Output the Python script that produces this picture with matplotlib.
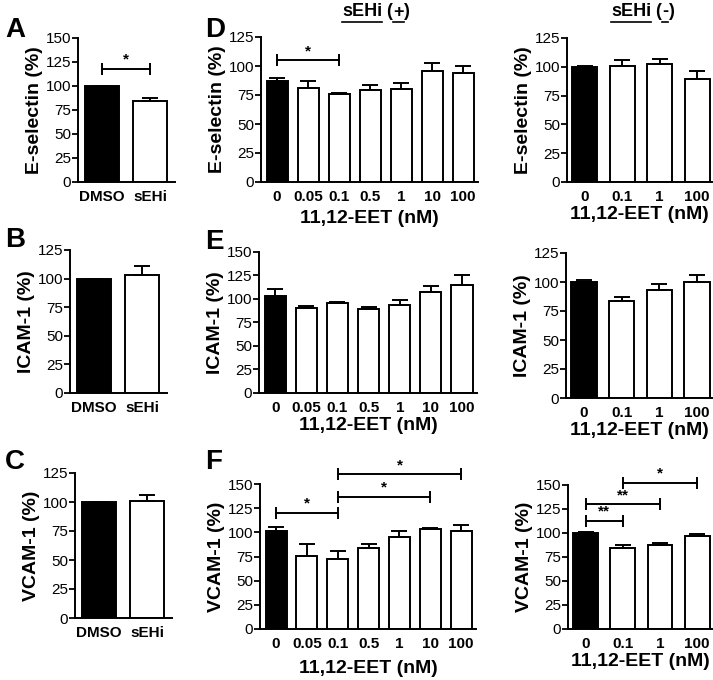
import numpy as np
import matplotlib
matplotlib.use('Agg')
import matplotlib.pyplot as plt
from matplotlib.lines import Line2D

plt.rcParams['font.family'] = ['Liberation Sans', 'DejaVu Sans']

# panels A-C: DMSO vs sEHi
ctrl_labels = ['DMSO', 'sEHi']
a_vals = [100, 84]
a_errs = [0, 3]
b_vals = [100, 103]
b_errs = [0, 8]
c_vals = [100, 101]
c_errs = [0, 5]

# panels D-F: 11,12-EET dose, with sEHi (+) and without (-)
dose_plus = ['0', '0.05', '0.1', '0.5', '1', '10', '100']
dose_minus = ['0', '0.1', '1', '100']

d_plus_vals = [87, 81, 76, 79, 80, 96, 94]
d_plus_errs = [3, 6, 1, 5, 5, 7, 6]
d_minus_vals = [100, 101, 102, 89]
d_minus_errs = [0.5, 5, 5, 7]

e_plus_vals = [103, 90, 96, 89, 94, 107, 115]
e_plus_errs = [8, 3, 1, 2, 5, 7, 10]
e_minus_vals = [100, 84, 93, 100]
e_minus_errs = [2, 3, 5, 6]

f_plus_vals = [101, 76, 72, 84, 95, 103, 101]
f_plus_errs = [5, 12, 9, 4, 6, 1.5, 7]
f_minus_vals = [100, 84, 88, 97]
f_minus_errs = [1, 3, 1.5, 1.5]

# significance brackets: (from bar, to bar, height, mark)
a_sig = [(0, 1, 118, '*')]
d_plus_sig = [(0, 2, 105, '*')]
f_plus_sig = [(0, 2, 120, '*'), (2, 5, 137, '*'), (2, 6, 160, '*')]
f_minus_sig = [(0, 1, 113, '**'), (0, 2, 130, '**'), (1, 3, 152, '*')]

W, H = 713, 680
fig = plt.figure(figsize=(W / 100, H / 100), dpi=100)


def box(l, r, t, b):
    return [l / W, 1 - b / H, (r - l) / W, (b - t) / H]


def panel(rect, vals, errs, labels, ylabel, ymax, xlim, width,
          xlabel=None, sig=(), xlabelpad=4):
    ax = fig.add_axes(rect)
    n = len(vals)
    x = np.arange(n)
    colors = ['black'] + ['white'] * (n - 1)
    ax.bar(x, vals, width, color=colors, edgecolor='black', linewidth=1.4, zorder=2)
    ax.errorbar(x, vals, yerr=[np.zeros(n), errs], fmt='none', ecolor='black',
                elinewidth=1.4, capsize=6, capthick=1.4, zorder=3)
    ax.set_xlim(*xlim)
    ax.set_ylim(0, ymax)
    ax.set_yticks(np.arange(0, ymax + 1, 25))
    ax.set_xticks(x)
    ax.set_xticklabels(labels, fontweight='bold', fontsize=11)
    ax.tick_params(axis='x', length=0, pad=6)
    ax.tick_params(axis='y', length=4, width=1.3, pad=1, labelsize=11)
    for s in ['top', 'right']:
        ax.spines[s].set_visible(False)
    for s in ['left', 'bottom']:
        ax.spines[s].set_linewidth(1.4)
    ax.set_ylabel(ylabel, fontweight='bold', fontsize=14, labelpad=2)
    if xlabel:
        ax.set_xlabel(xlabel, fontweight='bold', fontsize=14, labelpad=xlabelpad)
    for i, j, y, mark in sig:
        ax.plot([i, j], [y, y], color='black', lw=1.4, clip_on=False)
        ax.plot([i, j], [y, y], ls='none', marker='|', ms=9, mew=1.4,
                color='black', clip_on=False)
        ax.text((i + j) / 2, y + ymax * 0.015, mark, ha='center', va='bottom',
                fontweight='bold', fontsize=11, clip_on=False)
    return ax


eet = '11,12-EET (nM)'
panel(box(78, 175, 38, 182), a_vals, a_errs, ctrl_labels, 'E-selectin (%)', 150,
      (-0.5, 1.52), 0.7, sig=a_sig)
panel(box(70, 167, 250, 393), b_vals, b_errs, ctrl_labels, 'ICAM-1 (%)', 125,
      (-0.5, 1.52), 0.7)
panel(box(75, 172, 473, 618), c_vals, c_errs, ctrl_labels, 'VCAM-1 (%)', 125,
      (-0.5, 1.52), 0.7)

panel(box(261, 478, 37, 182), d_plus_vals, d_plus_errs, dose_plus, 'E-selectin (%)', 125,
      (-0.52, 6.48), 0.68, xlabel=eet, sig=d_plus_sig)
panel(box(567, 712, 38, 182), d_minus_vals, d_minus_errs, dose_minus, 'E-selectin (%)', 125,
      (-0.48, 3.4), 0.67, xlabel=eet, xlabelpad=1)
panel(box(259, 477, 252, 393), e_plus_vals, e_plus_errs, dose_plus, 'ICAM-1 (%)', 150,
      (-0.52, 6.48), 0.68, xlabel=eet, xlabelpad=1)
panel(box(566, 712, 253, 398), e_minus_vals, e_minus_errs, dose_minus, 'ICAM-1 (%)', 125,
      (-0.48, 3.4), 0.67, xlabel=eet, xlabelpad=1)
panel(box(260, 476, 484, 629), f_plus_vals, f_plus_errs, dose_plus, 'VCAM-1 (%)', 150,
      (-0.52, 6.48), 0.68, xlabel=eet, xlabelpad=6, sig=f_plus_sig)
panel(box(568, 712, 485, 629), f_minus_vals, f_minus_errs, dose_minus, 'VCAM-1 (%)', 150,
      (-0.48, 3.4), 0.67, xlabel=eet, xlabelpad=1, sig=f_minus_sig)

# panel letters
for letter, px, py in [('A', 5, 30), ('B', 5, 240), ('C', 5, 462),
                       ('D', 205, 30), ('E', 205, 242), ('F', 205, 462)]:
    fig.text(px / W, 1 - py / H, letter, fontsize=20, fontweight='bold',
             ha='left', va='center')

# column titles with underlined parts
renderer = fig.canvas.get_renderer()


def title(px, parts):
    x = px
    y = H - 12
    for txt, under in parts:
        t = fig.text(x / W, y / H, txt, fontsize=13, fontweight='bold',
                     ha='left', va='center')
        bb = t.get_window_extent(renderer)
        if under:
            fig.add_artist(Line2D([bb.x0 / W, bb.x1 / W], [(bb.y0 - 1) / H] * 2,
                                  color='black', lw=1.2))
        x = bb.x1


title(342, [('sEHi', True), (' (', False), ('+', True), (')', False)])
title(611, [('sEHi', True), (' (', False), ('-', True), (')', False)])

fig.savefig('out.png', dpi=100)
